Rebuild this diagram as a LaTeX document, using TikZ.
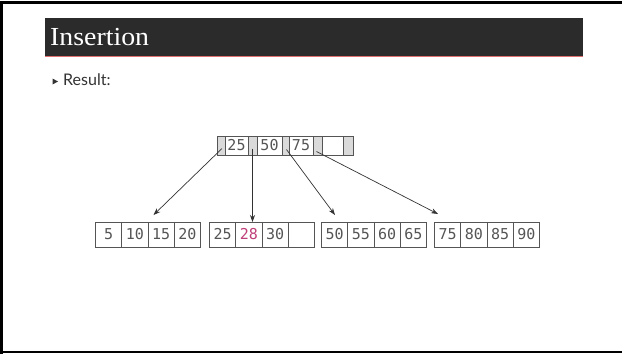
\documentclass[tikz,border=0pt]{standalone}
\usepackage{fontspec}
\setmainfont{Liberation Serif}
\newfontfamily\titlefont[FakeStretch=1.07]{Liberation Serif}
\newfontfamily\bodyfont{Lato}
\newfontfamily\cellfont{DejaVu Sans Mono}
\usetikzlibrary{arrows.meta,positioning}
\definecolor{barbg}{HTML}{2B2B2B}
\definecolor{barline}{HTML}{E07070}
\definecolor{celltext}{HTML}{555555}
\definecolor{cellline}{HTML}{555555}
\definecolor{ptrfill}{HTML}{DADADA}
\definecolor{newkey}{HTML}{C0407A}
\definecolor{arrowcol}{HTML}{333333}
\tikzset{
  cellbase/.style={draw=cellline, line width=0.8pt, inner sep=0pt, outer sep=0pt,
    text=celltext, font=\cellfont\fontsize{15}{15}\selectfont},
  leafcell/.style={cellbase, minimum width=26.25pt, minimum height=25pt, anchor=west},
  rootkey/.style={cellbase, minimum height=19pt, anchor=west},
  rootptr/.style={cellbase, fill=ptrfill, minimum height=19pt, anchor=west},
  ptrarrow/.style={draw=arrowcol, line width=0.7pt, -{Stealth[length=7pt,width=5pt]}},
}
\begin{document}
\begin{tikzpicture}[x=1pt,y=-1pt]
\useasboundingbox (0,0) rectangle (622,354);
\fill[white] (0,0) rectangle (622,354);
% slide frame
\draw[line width=3pt] (1.5,354) -- (1.5,2.5) -- (622,2.5);
\draw[line width=2pt] (0,352) -- (622,352);
% title bar
\fill[barbg] (45,18) rectangle (583,56.5);
\draw[barline, line width=1.2pt] (45,56.8) -- (583,56.8);
\node[anchor=base west, inner sep=0pt, text=white, font=\titlefont\fontsize{26}{26}\selectfont] (title) at (50,45) {Insertion};
% bullet
\fill[arrowcol] (52.5,78.5) -- (58,81.5) -- (52.5,84.5) -- cycle;
\node[anchor=base west, inner sep=0pt, text=arrowcol, font=\bodyfont\fontsize{16}{16}\selectfont] (result) at (63,85.5) {Result:};
% root node
\node[rootptr, minimum width=8pt] (p0) at (217,145.5) {};
\node[rootkey, minimum width=23pt, right=0pt of p0] (k1) {25};
\node[rootptr, minimum width=9pt, right=0pt of k1] (p1) {};
\node[rootkey, minimum width=25pt, right=0pt of p1] (k2) {50};
\node[rootptr, minimum width=7pt, right=0pt of k2] (p2) {};
\node[rootkey, minimum width=24pt, right=0pt of p2] (k3) {75};
\node[rootptr, minimum width=9pt, right=0pt of k3] (p3) {};
\node[rootkey, minimum width=21pt, right=0pt of p3] (k4) {};
\node[rootptr, minimum width=10pt, right=0pt of k4] (p4) {};
% leaf 1
\node[leafcell] (a1) at (95.5,234.5) {5};
\node[leafcell, right=0pt of a1] (a2) {10};
\node[leafcell, right=0pt of a2] (a3) {15};
\node[leafcell, right=0pt of a3] (a4) {20};
% leaf 2
\node[leafcell] (b1) at (209.5,234.5) {25};
\node[leafcell, right=0pt of b1, text=newkey] (b2) {28};
\node[leafcell, right=0pt of b2] (b3) {30};
\node[leafcell, right=0pt of b3] (b4) {};
% leaf 3
\node[leafcell] (c1) at (321.5,234.5) {50};
\node[leafcell, right=0pt of c1] (c2) {55};
\node[leafcell, right=0pt of c2] (c3) {60};
\node[leafcell, right=0pt of c3] (c4) {65};
% leaf 4
\node[leafcell] (d1) at (434.5,234.5) {75};
\node[leafcell, right=0pt of d1] (d2) {80};
\node[leafcell, right=0pt of d2] (d3) {85};
\node[leafcell, right=0pt of d3] (d4) {90};
% arrow targets
\coordinate (t1) at (153.5,215);
\coordinate (t3) at (335,215);
\coordinate (t4) at (438,214);
\draw[ptrarrow] ([xshift=1pt,yshift=-3pt]p0.center) -- (t1);
\draw[ptrarrow] ([yshift=-3pt]p1.center) -- (p1.center |- b2.north);
\draw[ptrarrow] ([xshift=1pt,yshift=-4pt]p2.center) -- (t3);
\draw[ptrarrow] ([xshift=-1pt,yshift=-6pt]p3.center) -- (t4);
\end{tikzpicture}
\end{document}
